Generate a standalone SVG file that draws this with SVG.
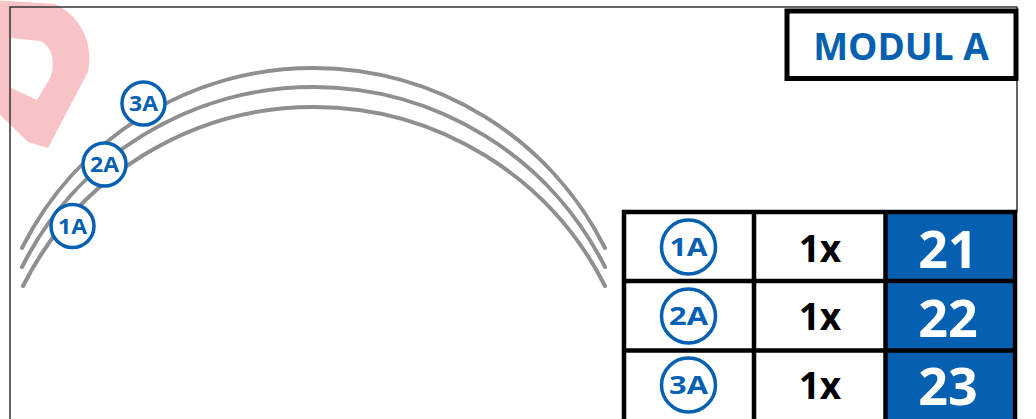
<svg xmlns="http://www.w3.org/2000/svg" width="1036" height="419" viewBox="0 0 1036 419">
  <style>
    .arc { fill: none; stroke: #8f8f8f; stroke-width: 4; stroke-linecap: round; }
    .lbl { fill: #ffffff; stroke: #0660b1; stroke-width: 3.5; }
    .lbltxt { font-family: "Open Sans", "Liberation Sans", sans-serif; font-weight: 700; fill: #0660b1; text-anchor: middle; }
    .cell { fill: #ffffff; }
    .blue { fill: #0660b1; }
    .grid { stroke: #000000; stroke-width: 4.5; fill: none; }
    .qty { font-family: "Open Sans", "Liberation Sans", sans-serif; font-weight: 700; font-size: 37px; fill: #000000; text-anchor: middle; }
    .num { font-family: "Open Sans", "Liberation Sans", sans-serif; font-weight: 700; font-size: 52px; fill: #ffffff; text-anchor: middle; }
  </style>
  <rect x="0" y="0" width="1036" height="419" fill="#ffffff"/>

  <g id="watermark">
    <path fill="#f8c3c7" fill-rule="evenodd" d="M -10 0 L 55 4 C 80 16 94 42 88 72 L 48 148 L 28 142 L -10 105 Z M 11 38 L 40 41 C 52 46 56 62 50 78 L 37 100 L 11 88 Z"/>
  </g>

  <g id="page-border">
    <path d="M 10 419 L 10 7 L 1017 7 L 1017 212" fill="none" stroke="#333333" stroke-width="1.5"/>
  </g>

  <g id="arcs">
    <path class="arc" d="M 22 248 A 326 326 0 0 1 605 248"/>
    <path class="arc" d="M 22 267 A 326 326 0 0 1 605 267"/>
    <path class="arc" d="M 23 286 A 326 326 0 0 1 605 286"/>
  </g>

  <g id="label-3A">
    <circle class="lbl" cx="143.5" cy="103.5" r="21.5"/>
    <text class="lbltxt" x="143.5" y="111" font-size="21" textLength="29" lengthAdjust="spacingAndGlyphs">3A</text>
  </g>
  <g id="label-2A">
    <circle class="lbl" cx="104.5" cy="164.5" r="21.5"/>
    <text class="lbltxt" x="104.5" y="172" font-size="21" textLength="29" lengthAdjust="spacingAndGlyphs">2A</text>
  </g>
  <g id="label-1A">
    <circle class="lbl" cx="72.5" cy="226" r="21.5"/>
    <text class="lbltxt" x="72.5" y="233.5" font-size="21" textLength="29" lengthAdjust="spacingAndGlyphs">1A</text>
  </g>

  <g id="modul-title">
    <rect x="787" y="11" width="229" height="67.5" fill="#ffffff" stroke="#000000" stroke-width="5"/>
    <text x="901" y="60" font-family="'Open Sans', 'Liberation Sans', sans-serif" font-weight="700" font-size="37" fill="#0660b1" text-anchor="middle">MODUL A</text>
  </g>

  <g id="table">
    <rect class="cell" x="624" y="212" width="391" height="210"/>
    <rect class="blue" x="885" y="212" width="130" height="210"/>
    <g id="row-1A">
      <circle class="lbl" cx="688.5" cy="247" r="27"/>
      <text class="lbltxt" x="688.5" y="256" font-size="25" textLength="38" lengthAdjust="spacingAndGlyphs">1A</text>
      <text class="qty" x="820" y="261.5">1x</text>
      <text class="num" x="948" y="268">21</text>
    </g>
    <g id="row-2A">
      <circle class="lbl" cx="688.5" cy="316" r="27"/>
      <text class="lbltxt" x="688.5" y="325" font-size="25" textLength="39" lengthAdjust="spacingAndGlyphs">2A</text>
      <text class="qty" x="820" y="330">1x</text>
      <text class="num" x="948" y="337">22</text>
    </g>
    <g id="row-3A">
      <circle class="lbl" cx="688.5" cy="385" r="27"/>
      <text class="lbltxt" x="688.5" y="394" font-size="25" textLength="39" lengthAdjust="spacingAndGlyphs">3A</text>
      <text class="qty" x="820" y="398.5">1x</text>
      <text class="num" x="948" y="405">23</text>
    </g>
    <path class="grid" d="M 624 422 L 624 212 L 1015 212 L 1015 422 M 754 212 L 754 422 M 885.5 212 L 885.5 422 M 624 281 L 1015 281 M 624 350.5 L 1015 350.5"/>
  </g>
</svg>
